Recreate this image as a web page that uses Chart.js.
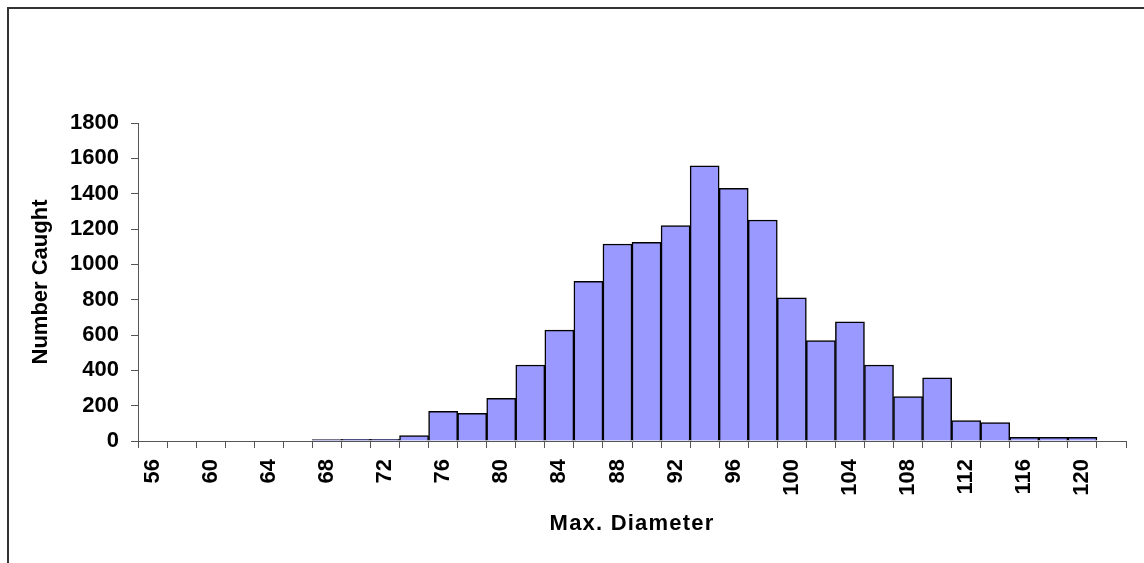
<!DOCTYPE html>
<html>
<head>
<meta charset="utf-8">
<script src="https://cdn.jsdelivr.net/npm/chart.js@4.4.1/dist/chart.umd.min.js"></script>
<style>
  body { margin: 0; background: #fff; }
  canvas { display: block; }
</style>
</head>
<body>
<canvas id="miGrafica" width="1144" height="563"></canvas>
<script>
// histogram data
const diametros = [56, 58, 60, 62, 64, 66, 68, 70, 72, 74, 76, 78, 80, 82, 84, 86, 88,
                   90, 92, 94, 96, 98, 100, 102, 104, 106, 108, 110, 112, 114, 116, 118, 120, 122];
const capturados = [0, 0, 0, 0, 0, 0, 8, 10, 10, 30, 168, 157, 241, 430, 628, 904, 1115,
                    1124, 1219, 1558, 1430, 1251, 811, 568, 674, 430, 251, 357, 115, 104, 21, 21, 21, 0];
const yTicks = [0, 200, 400, 600, 800, 1000, 1200, 1400, 1600, 1800];

const ejeColor = "#555";
const fuente = "'Liberation Sans', Arial, sans-serif";

// marco exterior (solo arriba e izquierda se ven)
const marco = {
    id: "marco",
    beforeDraw(chart) {
        const ctx = chart.ctx;
        ctx.save();
        ctx.fillStyle = "#fff";
        ctx.fillRect(0, 0, chart.width, chart.height);
        ctx.strokeStyle = "#333";
        ctx.lineWidth = 2;
        ctx.beginPath();
        ctx.moveTo(8, chart.height + 5);
        ctx.lineTo(8, 8);
        ctx.lineTo(chart.width + 5, 8);
        ctx.stroke();
        ctx.restore();
    },
    afterUpdate(chart) {
        // titulo del eje x con un poco de espacio entre letras
        const s = chart.scales.x;
        if (s && !s._espaciado) {
            const orig = s.drawTitle;
            s.drawTitle = function () {
                this.ctx.save();
                this.ctx.letterSpacing = "1.2px";
                orig.call(this);
                this.ctx.restore();
            };
            s._espaciado = true;
        }
    }
};

let micanvas = document.getElementById("miGrafica").getContext("2d");
let chart = new Chart(micanvas, {
    type: "bar",
    data: {
        labels: diametros,
        datasets: [
            {
                data: capturados,
                backgroundColor: "#9999ff",
                borderColor: "#000",
                borderWidth: 1.5,
                barPercentage: 1,
                categoryPercentage: 1
            }
        ]
    },
    options: {
        responsive: false,
        animation: false,
        layout: { padding: { top: 123, right: 18, left: 0, bottom: 0 } },
        plugins: {
            legend: { display: false },
            tooltip: { enabled: false }
        },
        scales: {
            x: {
                offset: true,
                grid: { offset: true, drawOnChartArea: false, tickLength: 7, color: ejeColor, tickColor: ejeColor },
                border: { color: ejeColor, width: 1 },
                ticks: {
                    autoSkip: false,
                    maxRotation: 90,
                    minRotation: 90,
                    padding: 11,
                    color: "#000",
                    font: { family: fuente, size: 22, weight: "bold" },
                    callback: function (val, i) {
                        return i % 2 === 0 ? String(diametros[i]) : "";
                    }
                },
                title: {
                    display: true,
                    text: "Max. Diameter",
                    color: "#000",
                    font: { family: fuente, size: 22, weight: "bold" },
                    padding: { top: 0, bottom: 26 }
                },
                afterFit: (scale) => {
                    scale.height = 122;
                    scale.paddingLeft = 0;
                    scale.paddingRight = 0;
                }
            },
            y: {
                min: 0,
                max: 1800,
                afterBuildTicks: (scale) => { scale.ticks = yTicks.map(v => ({ value: v })); },
                grid: { drawOnChartArea: false, tickLength: 7, color: ejeColor, tickColor: ejeColor },
                border: { color: ejeColor, width: 1 },
                ticks: {
                    padding: 12,
                    color: "#000",
                    font: { family: fuente, size: 22, weight: "bold" },
                    callback: (v) => String(v)
                },
                title: {
                    display: true,
                    text: "Number Caught",
                    color: "#000",
                    font: { family: fuente, size: 22, weight: "bold" },
                    padding: { top: 28, bottom: 0 }
                },
                afterFit: (scale) => { scale.width = 138; }
            }
        }
    },
    plugins: [marco]
});
</script>
</body>
</html>
